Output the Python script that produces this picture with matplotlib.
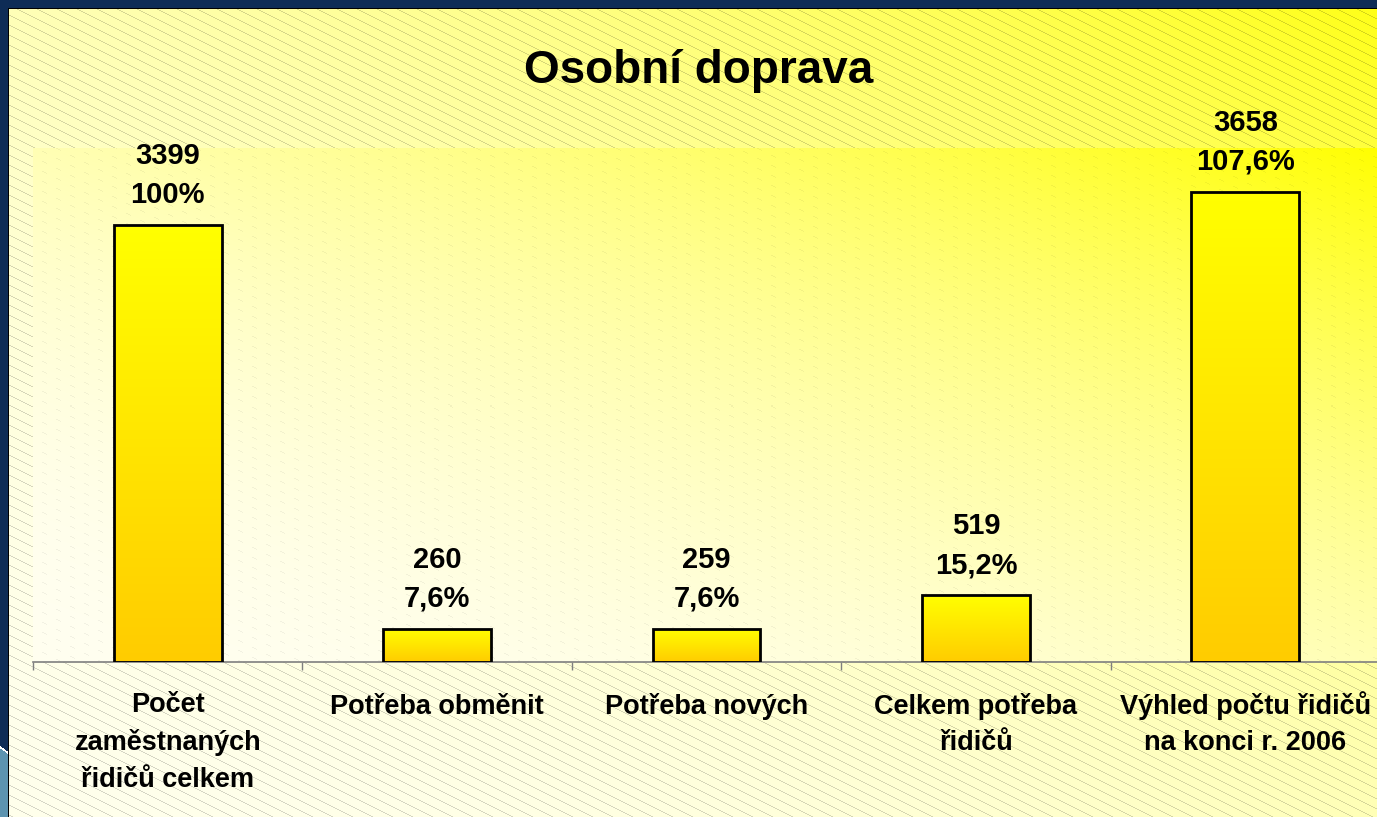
import numpy as np
import matplotlib
matplotlib.use('Agg')
import matplotlib.pyplot as plt

# ---- data ----
categories = ["Počet\nzaměstnaných\nřidičů celkem", "Potřeba obměnit", "Potřeba nových",
              "Celkem potřeba\nřidičů", "Výhled počtu řidičů\nna konci r. 2006"]
values = [3399, 260, 259, 519, 3658]
pct_labels = ["100%", "7,6%", "7,6%", "15,2%", "107,6%"]
title = "Osobní doprava"

plt.rcParams['font.family'] = ['Liberation Sans', 'DejaVu Sans']

W, H = 1377, 817
fig = plt.figure(figsize=(W / 100, H / 100), dpi=100)

# ---- slide / panel background ----
yy, xx = np.mgrid[0:H, 0:W].astype(float)
navy = np.array([14, 44, 86]) / 255
img = np.empty((H, W, 3))
img[:] = navy
pale = np.array([255, 255, 236]) / 255
yel = np.array([255, 255, 25]) / 255
t = ((xx - 9) / (W - 9) + 1 - (yy - 9) / (H - 9)) / 2
t = np.clip(t, 0, 1) ** 2
panel = pale * (1 - t[..., None]) + yel * t[..., None]
hatch = ((yy - 0.5 * xx) % 10) < 1.0
panel[hatch] *= 0.84
inside = (xx >= 9) & (yy >= 9)
img[inside] = panel[inside]
edge = ((xx == 8) & (yy >= 8)) | ((yy == 8) & (xx >= 8))
img[edge] = 0
lb = (xx < 8) & (yy > 747 + 0.7 * xx)
img[lb] = np.array([93, 148, 176]) / 255
lbedge = (xx < 8) & (np.abs(yy - (747 + 0.7 * xx)) < 1.2)
img[lbedge] = 1

bg = fig.add_axes([0, 0, 1, 1], zorder=-10)
bg.imshow(img, aspect='auto', interpolation='nearest')
bg.axis('off')

# ---- plot area ----
ax_l, ax_r, ax_t, ax_b = 33, 1380, 147.6, 662
ax = fig.add_axes([ax_l / W, (H - ax_b) / H, (ax_r - ax_l) / W, (ax_b - ax_t) / H])
ax.patch.set_visible(False)

ph, pw = int(ax_b - ax_t), int(ax_r - ax_l)
py, px = np.mgrid[0:ph, 0:pw].astype(float)
pale2 = np.array([255, 254, 240]) / 255
yel2 = np.array([255, 255, 0]) / 255
t2 = (px / pw + 1 - py / ph) / 2
t2 = np.clip(t2, 0, 1) ** 2
pa = pale2 * (1 - t2[..., None]) + yel2 * t2[..., None]
gx, gy = px + ax_l, py + ax_t
ph_hatch = (((gy - 0.5 * gx) % 10) < 1.0) & ((gx % 14) < 5)
pa[ph_hatch] *= 0.95

x = np.arange(len(values))
xlim = (-0.5, len(values) - 0.5)
ylim = (0, 4000)
ax.imshow(pa, extent=(xlim[0], xlim[1], ylim[0], ylim[1]), aspect='auto',
          interpolation='nearest', zorder=0)

bars = ax.bar(x, values, width=0.4, facecolor='none', edgecolor='black',
              linewidth=2, zorder=3)
g = np.linspace(0, 1, 256)[:, None, None]
top_c = np.array([1.0, 1.0, 0.0])
bot_c = np.array([1.0, 0.8, 0.0])
gimg = top_c * (1 - g) + bot_c * g
for b in bars:
    im = ax.imshow(gimg, extent=(b.get_x(), b.get_x() + b.get_width(), 0, b.get_height()),
                   aspect='auto', interpolation='bilinear', zorder=2)
    im.set_clip_path(b)

for xi, v, p in zip(x, values, pct_labels):
    ax.annotate(str(v), xy=(xi, v), xytext=(0, 61 * 0.72), textcoords='offset points',
                ha='center', va='baseline', fontsize=21, fontweight='bold', annotation_clip=False)
    ax.annotate(p, xy=(xi, v), xytext=(0, 22 * 0.72), textcoords='offset points',
                ha='center', va='baseline', fontsize=21, fontweight='bold', annotation_clip=False)

# category labels: first-line baseline 52 px below the axis, 36.5 px line pitch
line_px = 36.5
for xi, c in zip(x, categories):
    n = c.count('\n')
    ax.annotate(c, xy=(xi, 0), xytext=(0, -(52 + n * line_px) * 0.72), textcoords='offset points',
                ha='center', va='baseline', multialignment='center', fontsize=19.5,
                fontweight='bold', linespacing=1.53, annotation_clip=False)

ax.set_xlim(*xlim)
ax.set_ylim(*ylim)
for s in ['left', 'top', 'right']:
    ax.spines[s].set_visible(False)
ax.spines['bottom'].set_color('#7f7f7f')
ax.spines['bottom'].set_linewidth(1.2)
ax.set_yticks([])
ax.set_xticks(np.arange(-0.5, len(values), 1.0))
ax.set_xticklabels([])
ax.tick_params(axis='x', which='major', length=6, width=1, color='#7f7f7f', direction='out')

fig.text(699 / W, 1 - 83 / H, title, ha='center', va='baseline', fontsize=33, fontweight='bold')

fig.savefig('out.png', dpi=100)
